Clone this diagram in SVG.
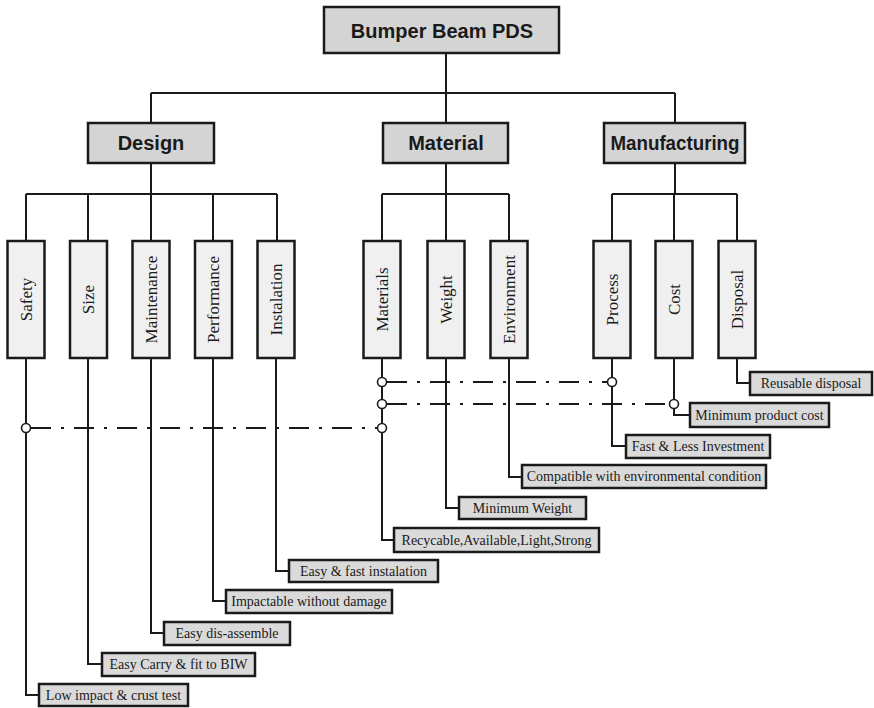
<svg xmlns="http://www.w3.org/2000/svg" width="874" height="708" viewBox="0 0 874 708">
<style>
.bg{fill:#ffffff}
.top{fill:#d4d4d4;stroke:#1a1a1a;stroke-width:2.5}
.sub{fill:#f0f0f0;stroke:#1a1a1a;stroke-width:2.5}
.leaf{fill:#dadada;stroke:#1a1a1a;stroke-width:2.5}
.ln{fill:none;stroke:#1a1a1a;stroke-width:2}
.dd{fill:none;stroke:#1a1a1a;stroke-width:2;stroke-dasharray:20 10 3 10}
.dot{fill:#ffffff;stroke:#1a1a1a;stroke-width:1.6}
.tb{font-family:"Liberation Sans",Arial,sans-serif;font-weight:bold;font-size:20px;fill:#1a1a1a;text-anchor:middle;dominant-baseline:central}
.tv{font-family:"Liberation Serif","Times New Roman",serif;font-size:17px;fill:#1a1a1a;text-anchor:middle;dominant-baseline:central}
.tl{font-family:"Liberation Serif","Times New Roman",serif;font-size:14px;fill:#1a1a1a;text-anchor:middle;dominant-baseline:central}
</style>
<rect class="bg" x="0" y="0" width="874" height="708"/>
<g id="connectors">
<path class="ln" d="M446 53V93M151 93H675M151 93V123M446 93V123M675 93V123"/>
<path class="ln" d="M151 163V194M26 194H277M26 194V241M88 194V241M151 194V241M213 194V241M277 194V241"/>
<path class="ln" d="M446 163V194M382 194H509M382 194V241M446 194V241M509 194V241"/>
<path class="ln" d="M675 163V194M612 194H737M612 194V241M674 194V241M737 194V241"/>
<path class="ln" d="M737 358V383H750"/>
<path class="ln" d="M674 358V415H690"/>
<path class="ln" d="M612 358V446H626"/>
<path class="ln" d="M509 358V477H522"/>
<path class="ln" d="M446 358V508H459"/>
<path class="ln" d="M382 358V540H394"/>
<path class="ln" d="M276 358V571H289"/>
<path class="ln" d="M213 358V601H226"/>
<path class="ln" d="M151 358V633H164"/>
<path class="ln" d="M88 358V664H102"/>
<path class="ln" d="M26 358V695H39"/>
<path class="dd" d="M387 382H608"/>
<path class="dd" d="M387 404H670"/>
<path class="dd" d="M31 428H378"/>
<circle class="dot" cx="382" cy="382" r="4.5"/>
<circle class="dot" cx="612" cy="382" r="4.5"/>
<circle class="dot" cx="382" cy="404" r="4.5"/>
<circle class="dot" cx="674" cy="404" r="4.5"/>
<circle class="dot" cx="382" cy="428" r="4.5"/>
<circle class="dot" cx="26" cy="428" r="4.5"/>
</g>
<g id="root"><rect class="top" x="324" y="7" width="235" height="46"/><text class="tb" x="442" y="31">Bumper Beam PDS</text></g>
<g id="design"><rect class="top" x="88" y="123" width="126" height="40"/><text class="tb" x="151" y="143">Design</text></g>
<g id="material"><rect class="top" x="383" y="123" width="125" height="40"/><text class="tb" x="446" y="143">Material</text></g>
<g id="manufacturing"><rect class="top" x="604" y="123" width="141" height="40"/><text class="tb" x="675" y="143" textLength="129" lengthAdjust="spacingAndGlyphs">Manufacturing</text></g>
<g id="safety"><rect class="sub" x="7.5" y="241" width="37" height="117"/><text class="tv" transform="translate(26 299.5) rotate(-90)">Safety</text></g>
<g id="size"><rect class="sub" x="70" y="241" width="37" height="117"/><text class="tv" transform="translate(88.5 299.5) rotate(-90)">Size</text></g>
<g id="maintenance"><rect class="sub" x="132.5" y="241" width="37" height="117"/><text class="tv" transform="translate(151 299.5) rotate(-90)">Maintenance</text></g>
<g id="performance"><rect class="sub" x="195" y="241" width="37" height="117"/><text class="tv" transform="translate(213.5 299.5) rotate(-90)">Performance</text></g>
<g id="instalation"><rect class="sub" x="257.5" y="241" width="37" height="117"/><text class="tv" transform="translate(276 299.5) rotate(-90)">Instalation</text></g>
<g id="materials"><rect class="sub" x="363.5" y="241" width="37" height="117"/><text class="tv" transform="translate(382 299.5) rotate(-90)">Materials</text></g>
<g id="weight"><rect class="sub" x="427.5" y="241" width="37" height="117"/><text class="tv" transform="translate(446 299.5) rotate(-90)">Weight</text></g>
<g id="environment"><rect class="sub" x="490.5" y="241" width="37" height="117"/><text class="tv" transform="translate(509 299.5) rotate(-90)">Environment</text></g>
<g id="process"><rect class="sub" x="593.5" y="241" width="37" height="117"/><text class="tv" transform="translate(612 299.5) rotate(-90)">Process</text></g>
<g id="cost"><rect class="sub" x="655.5" y="241" width="37" height="117"/><text class="tv" transform="translate(674 299.5) rotate(-90)">Cost</text></g>
<g id="disposal"><rect class="sub" x="718.5" y="241" width="37" height="117"/><text class="tv" transform="translate(737 299.5) rotate(-90)">Disposal</text></g>
<g id="leaf-reusable"><rect class="leaf" x="750" y="372" width="122" height="23"/><text class="tl" x="811" y="383.5">Reusable disposal</text></g>
<g id="leaf-cost"><rect class="leaf" x="690" y="403" width="139" height="24"/><text class="tl" x="759.5" y="415">Minimum product cost</text></g>
<g id="leaf-process"><rect class="leaf" x="626" y="435" width="144" height="23"/><text class="tl" x="698" y="446.5">Fast &amp; Less Investment</text></g>
<g id="leaf-env"><rect class="leaf" x="522" y="465" width="244" height="23"/><text class="tl" x="644" y="476.5">Compatible with environmental condition</text></g>
<g id="leaf-weight"><rect class="leaf" x="459" y="497" width="127" height="22"/><text class="tl" x="522.5" y="508">Minimum Weight</text></g>
<g id="leaf-materials"><rect class="leaf" x="394" y="528" width="205" height="24"/><text class="tl" x="496.5" y="540">Recycable,Available,Light,Strong</text></g>
<g id="leaf-instalation"><rect class="leaf" x="289" y="560" width="149" height="22"/><text class="tl" x="363.5" y="571">Easy &amp; fast instalation</text></g>
<g id="leaf-performance"><rect class="leaf" x="226" y="590" width="166" height="23"/><text class="tl" x="309" y="601.5">Impactable without damage</text></g>
<g id="leaf-maintenance"><rect class="leaf" x="164" y="622" width="126" height="23"/><text class="tl" x="227" y="633.5">Easy dis-assemble</text></g>
<g id="leaf-size"><rect class="leaf" x="102" y="653" width="153" height="23"/><text class="tl" x="178.5" y="664.5">Easy Carry &amp; fit to BIW</text></g>
<g id="leaf-safety"><rect class="leaf" x="39" y="684" width="149" height="22"/><text class="tl" x="113.5" y="695">Low impact &amp; crust test</text></g>
</svg>
